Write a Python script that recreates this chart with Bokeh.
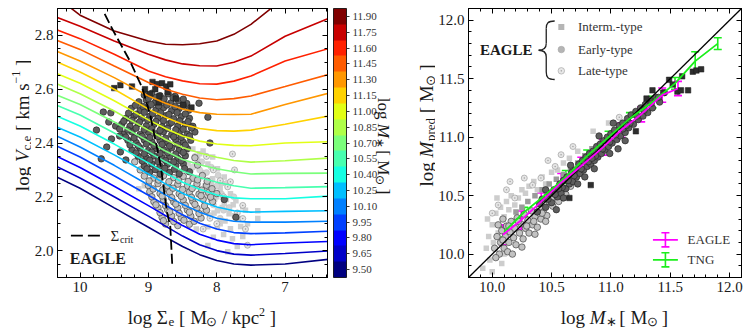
import math
import numpy as np
from bokeh.plotting import figure
from bokeh.models import (Range1d, LinearAxis, FixedTicker, ColorBar, LinearColorMapper,
                          PrintfTickFormatter, CustomJSTickFormatter, Label, Whisker, TeeHead,
                          ColumnDataSource)
from bokeh.layouts import row, column
from bokeh.embed import file_html
from bokeh.resources import INLINE

# ============================ DATA ============================
sigma_grid = [10.35, 10.0, 9.5, 9.0, 8.75, 8.5, 8.25, 8.0, 7.75, 7.5, 7.0, 6.35]
mass_levels = [9.50, 9.65, 9.80, 9.95, 10.10, 10.25, 10.40, 10.55, 10.70,
               10.85, 11.00, 11.15, 11.30, 11.45, 11.60, 11.75, 11.90]
vc_950 = [2.275, 2.232, 2.159, 2.087, 2.050, 2.015, 1.985, 1.963, 1.950, 1.946, 1.950, 1.968]
vc_965 = [2.314, 2.270, 2.200, 2.128, 2.091, 2.054, 2.022, 2.000, 1.987, 1.983, 1.989, 1.999]
vc_980 = [2.352, 2.309, 2.239, 2.167, 2.130, 2.093, 2.061, 2.039, 2.026, 2.022, 2.028, 2.034]
vc_995 = [2.390, 2.348, 2.278, 2.206, 2.169, 2.133, 2.102, 2.080, 2.067, 2.063, 2.066, 2.072]
vc_1010 = [2.427, 2.385, 2.317, 2.244, 2.207, 2.172, 2.143, 2.120, 2.109, 2.106, 2.106, 2.109]
vc_1025 = [2.460, 2.422, 2.356, 2.285, 2.248, 2.213, 2.185, 2.162, 2.148, 2.143, 2.146, 2.148]
vc_1040 = [2.501, 2.463, 2.396, 2.326, 2.289, 2.254, 2.228, 2.207, 2.196, 2.193, 2.193, 2.203]
vc_1055 = [2.541, 2.504, 2.437, 2.367, 2.330, 2.296, 2.272, 2.254, 2.241, 2.232, 2.234, 2.238]
vc_1070 = [2.579, 2.543, 2.478, 2.407, 2.370, 2.339, 2.319, 2.304, 2.293, 2.285, 2.287, 2.288]
vc_1085 = [2.621, 2.583, 2.519, 2.448, 2.413, 2.383, 2.363, 2.347, 2.335, 2.329, 2.334, 2.344]
vc_1100 = [2.659, 2.622, 2.557, 2.486, 2.454, 2.426, 2.407, 2.396, 2.391, 2.390, 2.400, 2.405]
vc_1115 = [2.703, 2.664, 2.600, 2.526, 2.496, 2.470, 2.454, 2.446, 2.444, 2.448, 2.470, 2.501]
vc_1130 = [2.742, 2.705, 2.643, 2.575, 2.548, 2.526, 2.513, 2.507, 2.506, 2.507, 2.543, 2.586]
vc_1145 = [2.783, 2.748, 2.686, 2.625, 2.600, 2.581, 2.567, 2.561, 2.565, 2.575, 2.610, 2.656]
vc_1160 = [2.822, 2.788, 2.730, 2.668, 2.646, 2.631, 2.620, 2.619, 2.630, 2.649, 2.705, 2.752]
vc_1175 = [2.868, 2.834, 2.779, 2.730, 2.709, 2.694, 2.687, 2.686, 2.700, 2.723, 2.797, 2.865]
vc_1190 = [2.944, 2.875, 2.816, 2.779, 2.767, 2.765, 2.769, 2.779, 2.804, 2.841, 2.942, 3.081]
vc_curves = [vc_950, vc_965, vc_980, vc_995, vc_1010, vc_1025, vc_1040, vc_1055, vc_1070,
             vc_1085, vc_1100, vc_1115, vc_1130, vc_1145, vc_1160, vc_1175, vc_1190]
cbar_ticks = mass_levels

sigcrit_x = [9.64, 9.51, 9.27, 9.09, 8.97, 8.82, 8.73, 8.68, 8.65]
sigcrit_y = [2.88, 2.815, 2.705, 2.605, 2.50, 2.315, 2.145, 2.09, 1.94]

# Left panel galaxies (log Sigma_e, log Vc)
ldc_x = [9.06, 8.95, 8.83, 8.71, 8.61,
         9.14, 9.03, 8.90, 8.79, 8.67, 8.56, 8.44,
         9.25, 9.12, 9.01, 8.89, 8.78, 8.66, 8.55, 8.41,
         9.33, 9.21, 9.10, 8.98, 8.86, 8.75, 8.63, 8.52, 8.40,
         9.39, 9.27, 9.15, 9.03, 8.92, 8.80, 8.69, 8.57, 8.46, 8.35,
         9.36, 9.24, 9.12, 9.00, 8.89, 8.78, 8.66, 8.55, 8.43, 8.32,
         9.30, 9.18, 9.06, 8.95, 8.83, 8.72, 8.60, 8.49, 8.38,
         9.24, 9.12, 9.00, 8.89, 8.78, 8.66, 8.55, 8.43,
         9.15, 9.03, 8.92, 8.80, 8.69, 8.57, 8.46,
         9.06, 8.95, 8.83, 8.72, 8.60, 8.49,
         8.98, 8.83, 8.69, 8.55, 8.40,
         9.66, 9.55, 9.58, 9.48, 9.54, 9.69, 9.41, 9.76, 9.61, 9.42, 9.33, 8.49, 8.26, 8.13, 7.89, 7.72, 8.10,
         9.00, 8.89, 8.77, 8.64,
         9.19, 9.08, 8.96, 8.85, 8.73, 8.61, 8.49,
         9.29, 9.18, 9.06, 8.94, 8.82, 8.70, 8.58, 8.46,
         9.36, 9.24, 9.13, 9.01, 8.89, 8.78, 8.66, 8.54, 8.42,
         9.42, 9.30, 9.18, 9.06, 8.95, 8.83, 8.72, 8.60, 8.49, 8.37,
         9.33, 9.21, 9.09, 8.98, 8.86, 8.75, 8.63, 8.52, 8.40,
         9.27, 9.15, 9.03, 8.92, 8.80, 8.69, 8.57, 8.46,
         9.18, 9.06, 8.95, 8.83, 8.72, 8.60, 8.49,
         9.09, 8.98, 8.86, 8.75, 8.63, 8.52,
         9.02, 8.90, 8.76, 8.62, 8.47]
ldc_y = [2.578, 2.585, 2.576, 2.583, 2.574,
         2.553, 2.560, 2.551, 2.558, 2.549, 2.557, 2.547,
         2.529, 2.521, 2.530, 2.523, 2.531, 2.520, 2.528, 2.522,
         2.492, 2.500, 2.491, 2.499, 2.493, 2.501, 2.490, 2.498, 2.492,
         2.470, 2.462, 2.471, 2.464, 2.469, 2.461, 2.472, 2.463, 2.470, 2.462,
         2.433, 2.441, 2.432, 2.440, 2.434, 2.442, 2.431, 2.439, 2.433, 2.441,
         2.410, 2.402, 2.411, 2.404, 2.409, 2.401, 2.412, 2.403, 2.410,
         2.374, 2.381, 2.372, 2.380, 2.375, 2.382, 2.373, 2.379,
         2.351, 2.344, 2.352, 2.345, 2.350, 2.343, 2.352,
         2.315, 2.322, 2.314, 2.321, 2.316, 2.323,
         2.292, 2.285, 2.291, 2.286, 2.293,
         2.515, 2.512, 2.478, 2.463, 2.415, 2.341, 2.367, 2.448, 2.385, 2.426, 2.337, 2.563, 2.548, 2.496, 2.19, 2.124, 2.40,
         2.566, 2.569, 2.564, 2.568,
         2.540, 2.536, 2.543, 2.538, 2.541, 2.535, 2.539,
         2.511, 2.507, 2.514, 2.509, 2.512, 2.506, 2.513, 2.508,
         2.481, 2.484, 2.478, 2.485, 2.480, 2.483, 2.477, 2.482, 2.479,
         2.452, 2.448, 2.455, 2.450, 2.453, 2.447, 2.454, 2.449, 2.451, 2.456,
         2.422, 2.419, 2.425, 2.420, 2.424, 2.418, 2.423, 2.421, 2.426,
         2.393, 2.390, 2.396, 2.391, 2.395, 2.389, 2.394, 2.392,
         2.363, 2.360, 2.366, 2.361, 2.364, 2.359, 2.365,
         2.333, 2.336, 2.331, 2.335, 2.330, 2.334,
         2.304, 2.301, 2.306, 2.302, 2.305]
loc_x = [9.06, 8.92, 8.78, 8.63, 8.49, 8.35, 8.21,
         9.00, 8.86, 8.72, 8.57, 8.43, 8.29, 8.15,
         8.98, 8.83, 8.69, 8.55, 8.40, 8.26, 8.12, 8.00,
         8.92, 8.78, 8.63, 8.49, 8.35, 8.20, 8.06,
         8.86, 8.72, 8.57, 8.43, 8.29, 8.15,
         8.80, 8.66, 8.52, 8.38, 8.23,
         8.75, 8.57, 8.40,
         9.12, 9.20, 8.32, 8.28,
         8.99, 8.85, 8.70, 8.56, 8.42, 8.28, 8.14,
         8.93, 8.79, 8.64, 8.50, 8.36, 8.22, 8.07,
         8.95, 8.80, 8.66, 8.52, 8.37, 8.23, 8.09,
         8.89, 8.75, 8.60, 8.46, 8.32, 8.18,
         8.83, 8.69, 8.55, 8.40, 8.26,
         8.78, 8.63, 8.48, 8.33]
loc_y = [2.277, 2.270, 2.278, 2.271, 2.276, 2.269, 2.279,
         2.242, 2.249, 2.241, 2.247, 2.240, 2.248, 2.243,
         2.219, 2.212, 2.218, 2.211, 2.217, 2.210, 2.216, 2.212,
         2.182, 2.189, 2.181, 2.188, 2.183, 2.190, 2.182,
         2.159, 2.152, 2.158, 2.151, 2.157, 2.150,
         2.123, 2.129, 2.122, 2.128, 2.121,
         2.099, 2.093, 2.098,
         2.300, 2.330, 2.345, 2.318,
         2.259, 2.262, 2.256, 2.261, 2.257, 2.263, 2.258,
         2.229, 2.226, 2.232, 2.227, 2.231, 2.225, 2.230,
         2.200, 2.203, 2.197, 2.202, 2.198, 2.204, 2.199,
         2.170, 2.167, 2.173, 2.168, 2.172, 2.166,
         2.141, 2.144, 2.139, 2.143, 2.138,
         2.111, 2.108, 2.113, 2.109]
lsq_x = [8.28, 8.13, 7.99, 8.20, 8.06, 7.89, 8.28, 8.13, 7.95, 7.80, 8.03, 7.89, 7.72, 7.62,
         7.99, 7.82, 7.68, 7.95, 8.13, 7.80, 7.40, 7.40, 7.99, 8.13, 7.70, 7.84, 8.35, 8.20,
         8.06, 8.42, 9.06, 9.14, 7.55, 7.62, 7.77,
         8.22, 8.08, 7.93, 8.17, 8.00, 7.86, 7.76, 8.09, 7.92, 7.74, 7.88, 8.04, 8.18, 7.65,
         7.90, 8.05, 8.30, 7.58, 8.38, 8.25]
lsq_y = [2.341, 2.322, 2.304, 2.285, 2.267, 2.274, 2.237, 2.222, 2.230, 2.211, 2.193, 2.174,
         2.185, 2.163, 2.148, 2.137, 2.119, 2.100, 2.089, 2.081, 2.148, 2.119, 2.089, 2.019,
         2.015, 1.996, 2.378, 2.370, 2.348, 2.322, 2.241, 2.230, 2.100, 2.052, 2.044,
         2.29, 2.25, 2.25, 2.24, 2.20, 2.19, 2.17, 2.19, 2.16, 2.13, 2.11, 2.14, 2.15, 2.09,
         2.06, 2.05, 2.08, 2.15, 2.30, 2.36]
llc_x = [8.25, 8.10, 8.00, 7.93, 8.18, 8.05, 7.90, 8.30, 8.15, 7.85, 8.35, 8.22, 8.08, 7.98,
         7.75, 7.82, 8.10, 7.95, 8.32, 8.45]
llc_y = [2.30, 2.26, 2.24, 2.21, 2.20, 2.17, 2.15, 2.27, 2.29, 2.25, 2.31, 2.33, 2.31, 2.28,
         2.20, 2.16, 2.13, 2.12, 2.35, 2.36]
lrg_x = [7.77, 7.62, 7.62, 7.80, 7.84, 7.55, 7.58, 7.90, 7.95, 8.05, 7.70, 8.00, 8.10, 8.20, 7.74, 8.15]
lrg_y = [2.359, 2.168, 2.119, 2.256, 2.237, 2.02, 2.08, 2.20, 2.26, 2.30, 2.14, 2.10, 2.12, 2.08, 2.30, 2.35]
lds_x = [9.50, 9.41, 9.24, 8.94, 8.87, 8.80, 8.74, 8.68, 8.98, 8.84, 8.85, 8.49, 8.37, 8.72, 8.60, 9.05, 8.90]
lds_y = [2.604, 2.615, 2.610, 2.627, 2.619, 2.622, 2.610, 2.618, 2.582, 2.575, 2.551, 2.541,
         2.532, 2.590, 2.565, 2.600, 2.600]

# Right panel galaxies (log M*, log Mpred)
rdc_x = [10.38, 10.42, 10.45, 10.48, 10.50, 10.52, 10.55, 10.57, 10.58, 10.60, 10.62, 10.63,
         10.65, 10.67, 10.68, 10.70, 10.71, 10.73, 10.74, 10.76, 10.77, 10.79, 10.80, 10.82,
         10.83, 10.85, 10.86, 10.88, 10.89, 10.91, 10.92, 10.94, 10.95, 10.97, 10.98, 11.00,
         11.01, 11.03, 11.05, 11.07, 11.08, 11.10, 11.12, 11.14, 11.15, 11.17, 11.19, 11.21,
         11.23, 11.25, 11.27, 11.29, 11.31, 11.33, 11.35, 11.38, 11.41, 11.45,
         10.60, 10.72, 10.86, 10.99, 11.12, 10.45, 10.66, 10.90, 11.02, 10.54, 10.78, 11.06,
         10.40, 10.47, 10.53, 10.59, 10.64, 10.69, 10.75, 10.81, 10.87, 10.93, 10.99, 11.04,
         11.10, 11.16, 11.22, 11.28, 11.34, 11.40, 10.56, 10.84, 11.13]
rdc_y = [10.36, 10.47, 10.40, 10.52, 10.44, 10.55, 10.49, 10.60, 10.52, 10.63, 10.56, 10.66,
         10.60, 10.70, 10.62, 10.72, 10.66, 10.77, 10.69, 10.80, 10.72, 10.83, 10.75, 10.86,
         10.77, 10.88, 10.80, 10.92, 10.83, 10.94, 10.86, 10.97, 10.89, 11.00, 10.92, 11.03,
         10.95, 11.06, 10.98, 11.10, 11.01, 11.12, 11.04, 11.16, 11.08, 11.19, 11.11, 11.22,
         11.15, 11.25, 11.18, 11.28, 11.21, 11.31, 11.25, 11.34, 11.30, 11.38,
         10.48, 10.60, 10.73, 10.86, 10.97, 10.55, 10.76, 11.01, 11.12, 10.38, 10.66, 10.90,
         10.43, 10.47, 10.51, 10.57, 10.63, 10.67, 10.73, 10.79, 10.84, 10.90, 10.96, 11.02,
         11.07, 11.12, 11.18, 11.23, 11.29, 11.34, 10.56, 10.82, 11.10]
rop_x = [10.02, 10.04, 10.05, 10.06, 10.07, 10.08, 10.09, 10.10, 10.11, 10.12, 10.13, 10.14,
         10.15, 10.16, 10.18, 10.19, 10.20, 10.21, 10.23, 10.24, 10.26, 10.27, 10.28, 10.30,
         10.31, 10.33, 10.34, 10.36, 10.38, 10.40, 10.41, 10.43, 10.46, 10.48, 10.51, 10.53,
         10.56, 10.59, 10.62, 10.66, 10.03, 10.17, 10.25, 10.36, 10.45,
         10.09, 10.14, 10.22, 10.29, 10.35, 10.42, 10.50, 10.57]
rop_y = [10.05, 10.15, 10.25, 10.00, 10.10, 10.20, 10.30, 10.05, 10.15, 10.24, 10.02, 10.10,
         10.19, 10.28, 10.14, 10.22, 10.08, 10.31, 10.18, 10.26, 10.13, 10.34, 10.22, 10.29,
         10.18, 10.37, 10.25, 10.32, 10.23, 10.40, 10.30, 10.36, 10.33, 10.45, 10.41, 10.50,
         10.45, 10.55, 10.51, 10.58, 9.97, 10.00, 10.06, 10.17, 10.28,
         10.12, 10.24, 10.28, 10.24, 10.28, 10.35, 10.47, 10.50]
rsq_x = [9.92, 9.95, 9.97, 9.98, 10.00, 10.01, 10.03, 10.05, 10.07, 10.08, 10.10, 10.12, 10.14,
         10.16, 10.19, 10.22, 10.25, 10.28, 10.31, 10.35, 10.38, 10.42, 10.45, 10.50, 10.55,
         10.60, 10.65, 10.72, 9.96, 10.04, 10.00, 10.10, 10.85, 10.98]
rsq_y = [9.88, 10.05, 10.15, 9.95, 10.25, 10.10, 10.35, 10.18, 10.40, 9.92, 10.32, 10.45, 10.38,
         10.50, 10.42, 10.48, 10.55, 10.52, 10.58, 10.62, 10.55, 10.66, 10.60, 10.70, 10.72,
         10.78, 10.82, 10.88, 10.30, 10.48, 9.85, 10.00, 11.05, 11.12]
rmd_x = [10.30, 10.36, 10.42, 10.48, 10.54, 10.60, 10.66, 10.72, 10.78, 10.84, 10.25, 10.20,
         10.56, 10.68, 10.80, 10.92]
rmd_y = [10.45, 10.50, 10.55, 10.60, 10.64, 10.68, 10.72, 10.78, 10.84, 10.90, 10.40, 10.36,
         10.58, 10.66, 10.76, 10.95]
rrg_x = [10.00, 10.05, 10.12, 10.19, 10.27, 10.34, 10.41, 10.47, 10.53, 10.68, 11.07, 10.15, 10.58]
rrg_y = [10.35, 10.42, 10.55, 10.48, 10.65, 10.59, 10.65, 10.80, 10.75, 10.92, 11.17, 10.62, 10.85]
rds_x = [11.44, 11.49, 11.56, 11.59, 11.65, 11.69, 11.72, 11.76, 11.60, 11.52, 10.83, 10.65,
         11.30, 11.35, 11.21]
rds_y = [11.38, 11.49, 11.39, 11.40, 11.40, 11.56, 11.57, 11.58, 11.52, 11.45, 10.59, 10.48,
         11.33, 11.40, 11.05]

eagle_mstar = [10.09, 10.244, 10.413, 10.581, 10.75, 10.933, 11.087, 11.255, 11.432, 11.565]
eagle_mpred = [10.165, 10.29, 10.449, 10.611, 10.753, 10.913, 11.061, 11.195, 11.359, 11.416]
eagle_err = [0.085, 0.078, 0.074, 0.078, 0.075, 0.067, 0.062, 0.064, 0.061, 0.061]
tng_mstar = [10.10, 10.27, 10.44, 10.62, 10.80, 10.98, 11.16, 11.35, 11.54, 11.71, 11.90]
tng_mpred = [10.19, 10.36, 10.50, 10.66, 10.84, 11.00, 11.16, 11.30, 11.46, 11.65, 11.80]
tng_err = [0.045, 0.04, 0.05, 0.055, 0.05, 0.05, 0.05, 0.05, 0.05, 0.08, 0.05]
one_to_one = [9.8, 12.1]

# ============================ STYLE ============================
jet17 = ["#000080", "#0000c8", "#0000ff", "#0040ff", "#0080ff", "#00bfff", "#15ffe2",
         "#48ffaf", "#7bff7b", "#afff48", "#e2ff15", "#ffd200", "#ff9700", "#ff5c00",
         "#ff2100", "#c80000", "#800000"]
SERIF = "Liberation Serif"
TXT = "#1a1a1a"
MAGENTA = "#ff00ff"
GREEN = "#1bef1b"

CW = {' ': 0.25, 'l': 0.278, 'o': 0.5, 'g': 0.5, 'V': 0.611, 'M': 0.86, 'c': 0.444, ',': 0.25,
      'e': 0.444, '[': 0.333, ']': 0.333, 'k': 0.5, 'm': 0.778, 's': 0.389, '\u2212': 0.564,
      '1': 0.5, 'p': 0.5, 'r': 0.333, 'd': 0.5, '*': 0.5, '\u2217': 0.65, '\u2299': 0.8,
      '/': 0.278, '2': 0.5, '\u03a3': 0.62, 'i': 0.278, 't': 0.278}


def tw(t, size):
    return sum(CW.get(ch, 0.5) for ch in t) * size


def compose(p, pieces, cx, cy, angle=0.0):
    total = sum(tw(t, s) for t, s, st, d in pieces)
    pos = -total / 2.0
    ca, sa = math.cos(angle), math.sin(angle)
    for t, s, st, d in pieces:
        lead = len(t) - len(t.lstrip(' '))
        trail = len(t) - len(t.rstrip(' '))
        core = t.strip(' ')
        pos += lead * CW[' '] * s
        ox = pos * ca - d * sa
        oy = pos * sa + d * ca
        p.add_layout(Label(x=cx, y=cy, x_offset=ox, y_offset=oy, text=core, angle=angle,
                           text_font=SERIF, text_font_size=f"{s}px", text_font_style=st,
                           text_color=TXT, text_align="left", text_baseline="alphabetic"))
        pos += tw(core, s) + trail * CW[' '] * s


def text_fig(w, h):
    p = figure(width=w, height=h, x_range=Range1d(0, w), y_range=Range1d(0, h),
               x_axis_type=None, y_axis_type=None, output_backend="svg", toolbar_location=None,
               min_border_left=0, min_border_right=0, min_border_top=0, min_border_bottom=0)
    p.outline_line_color = None
    p.background_fill_color = "white"
    p.border_fill_color = "white"
    return p


def style_axis(ax, ticker, formatter, labels=True):
    ax.ticker = ticker
    ax.formatter = formatter if labels else CustomJSTickFormatter(code="return ''")
    ax.major_tick_in = 5
    ax.major_tick_out = 0
    ax.minor_tick_in = 3
    ax.minor_tick_out = 0
    ax.major_tick_line_color = "black"
    ax.minor_tick_line_color = "black"
    ax.axis_line_color = "black"
    ax.major_label_text_font = SERIF
    ax.major_label_text_font_size = "15px"
    ax.major_label_text_color = TXT
    ax.major_label_standoff = 4 if labels else 0


def make_fig(xr, yr, fw, fh, bl, br):
    p = figure(x_range=xr, y_range=yr, frame_width=fw, frame_height=fh,
               output_backend="svg", toolbar_location=None,
               min_border_left=bl, min_border_right=br, min_border_top=8, min_border_bottom=22)
    p.xgrid.visible = False
    p.ygrid.visible = False
    p.outline_line_color = "black"
    p.outline_line_width = 1
    p.background_fill_color = "white"
    p.border_fill_color = "white"
    return p


# ============================ LEFT PANEL ============================
left = make_fig(Range1d(10.33, 6.38), Range1d(1.90, 2.90), 270, 269, 24, 1)
lx_t = FixedTicker(ticks=[10, 9, 8, 7], minor_ticks=[round(v, 2) for v in np.arange(6.4, 10.41, 0.2)])
ly_t = FixedTicker(ticks=[2.0, 2.2, 2.4, 2.6, 2.8],
                   minor_ticks=[round(v, 3) for v in np.arange(1.90, 2.91, 0.05)])
style_axis(left.xaxis[0], lx_t, PrintfTickFormatter(format="%d"))
style_axis(left.yaxis[0], ly_t, PrintfTickFormatter(format="%.1f"))
ax_top = LinearAxis()
style_axis(ax_top, lx_t, None, labels=False)
left.add_layout(ax_top, "above")
ax_r = LinearAxis()
style_axis(ax_r, ly_t, None, labels=False)
left.add_layout(ax_r, "right")

left.scatter(lsq_x, lsq_y, marker="square", size=5.5, fill_color="#cfcfcf", line_color=None)
left.scatter(llc_x, llc_y, marker="circle", size=6, fill_color="#d4d4d4", line_color="#c2c2c2", line_width=0.6)
left.scatter(lrg_x, lrg_y, marker="circle_dot", size=6, fill_color="#e6e6e6", line_color="#9a9a9a", line_width=0.7)
left.scatter(loc_x, loc_y, marker="circle", size=6.5, fill_color="#c2c2c2", line_color="#454545", line_width=0.7)
left.scatter(ldc_x, ldc_y, marker="circle", size=6.5, fill_color="#5e5e5e", line_color="#262626", line_width=0.7)
left.scatter(lds_x, lds_y, marker="square", size=5.5, fill_color="#2e2e2e", line_color="#1a1a1a", line_width=0.5)

for vc, col in zip(vc_curves, jet17):
    left.line(sigma_grid, vc, line_color=col, line_width=1.6)
left.line(sigcrit_x, sigcrit_y, line_color="black", line_width=1.8, line_dash="10 4")

left.line([10.134, 9.703], [2.0556, 2.0556], line_color="black", line_width=1.8, line_dash="12 5")
left.add_layout(Label(x=9.554, y=2.0556, text="\u03a3", text_font=SERIF, text_font_size="15px",
                      text_color=TXT, text_baseline="middle", text_align="left"))
left.add_layout(Label(x=9.554, y=2.0556, x_offset=9.5, y_offset=-3.5, text="crit", text_font=SERIF,
                      text_font_size="10px", text_color=TXT, text_baseline="middle", text_align="left"))
left.add_layout(Label(x=10.149, y=1.972, text="EAGLE", text_font=SERIF, text_font_size="16px",
                      text_font_style="bold", text_color=TXT, text_baseline="middle", text_align="left"))

ylab_left = text_fig(31, 328)
compose(ylab_left, [("log ", 19, "normal", 0), ("V", 19, "italic", 0), ("c,e", 13, "normal", -4),
                    (" [ km s", 19, "normal", 0), ("\u22121", 12, "normal", 7), (" ]", 19, "normal", 0)],
        22, 185.5, angle=math.pi / 2)
xlab_left = text_fig(295, 29)
compose(xlab_left, [("log \u03a3", 19, "normal", 0), ("e", 13, "normal", -4), (" [ M", 19, "normal", 0),
                    ("\u2299", 13, "normal", -4), (" / kpc", 19, "normal", 0), ("2", 12, "normal", 6),
                    (" ]", 19, "normal", 0)], 159, 11)

cbar_fig = figure(width=74, height=328, x_range=Range1d(5, 74), y_range=Range1d(51, 320),
                  x_axis_type=None, y_axis_type=None, output_backend="svg", toolbar_location=None,
                  min_border_left=5, min_border_right=0, min_border_top=8, min_border_bottom=51)
cbar_fig.outline_line_color = None
cbar_fig.background_fill_color = "white"
cbar_fig.border_fill_color = "white"
mapper = LinearColorMapper(palette=jet17, low=9.425, high=11.975)
cb = ColorBar(color_mapper=mapper, ticker=FixedTicker(ticks=cbar_ticks),
              formatter=PrintfTickFormatter(format="%.2f"), width=13, height=269,
              location="top_left", padding=0, margin=0, background_fill_alpha=0,
              label_standoff=3, major_label_text_font=SERIF, major_label_text_font_size="11px",
              major_label_text_color="#333333", major_tick_line_color="#333333",
              major_tick_in=0, major_tick_out=3, minor_tick_line_color=None,
              bar_line_color="black", bar_line_width=0.8)
cbar_fig.add_layout(cb)
compose(cbar_fig, [("log ", 17, "normal", 0), ("M", 17, "italic", 0), ("\u2217", 12, "normal", -4),
                   (" [ M", 17, "normal", 0), ("\u2299", 12, "normal", -4), (" ]", 17, "normal", 0)],
        55, 182.5, angle=-math.pi / 2)

# ============================ RIGHT PANEL ============================
right = make_fig(Range1d(9.8, 12.1), Range1d(9.8, 12.1), 273, 269, 32, 9)
r_t = FixedTicker(ticks=[10.0, 10.5, 11.0, 11.5, 12.0],
                  minor_ticks=[round(v, 2) for v in np.arange(9.8, 12.11, 0.1)])
style_axis(right.xaxis[0], r_t, PrintfTickFormatter(format="%.1f"))
style_axis(right.yaxis[0], r_t, PrintfTickFormatter(format="%.1f"))
rt = LinearAxis()
style_axis(rt, r_t, None, labels=False)
right.add_layout(rt, "above")
rr = LinearAxis()
style_axis(rr, r_t, None, labels=False)
right.add_layout(rr, "right")

right.scatter(rsq_x, rsq_y, marker="square", size=5.5, fill_color="#cdcdcd", line_color=None)
right.scatter(rrg_x, rrg_y, marker="circle_dot", size=6, fill_color="#e6e6e6", line_color="#a0a0a0", line_width=0.7)
right.scatter(rmd_x, rmd_y, marker="square", size=5.5, fill_color="#9a9a9a", line_color=None)
right.scatter(rop_x, rop_y, marker="circle", size=6.5, fill_color="#c2c2c2", line_color="#454545", line_width=0.7)
right.scatter(rdc_x, rdc_y, marker="circle", size=6.5, fill_color="#5e5e5e", line_color="#262626", line_width=0.7)
right.scatter(rds_x, rds_y, marker="square", size=5.5, fill_color="#2e2e2e", line_color="#1a1a1a", line_width=0.5)

right.line(one_to_one, one_to_one, line_color="black", line_width=1.3)


def errbars(p, xs, ys, es, color, draw_line=True):
    src = ColumnDataSource(dict(x=xs, lo=[y - e for y, e in zip(ys, es)], hi=[y + e for y, e in zip(ys, es)]))
    if draw_line:
        p.line(xs, ys, line_color=color, line_width=1.8)
    p.add_layout(Whisker(source=src, base="x", lower="lo", upper="hi", dimension="height",
                         line_color=color, line_width=1.6,
                         lower_head=TeeHead(size=8, line_color=color, line_width=1.6),
                         upper_head=TeeHead(size=8, line_color=color, line_width=1.6)))


errbars(right, tng_mstar, tng_mpred, tng_err, GREEN)
errbars(right, eagle_mstar, eagle_mpred, eagle_err, MAGENTA)

for yy, col, name in [(10.122, MAGENTA, "EAGLE"), (9.951, GREEN, "TNG")]:
    right.line([11.354, 11.564], [yy, yy], line_color=col, line_width=1.8)
    errbars(right, [11.459], [yy], [0.06], col, draw_line=False)
    right.add_layout(Label(x=11.646, y=yy, text=name, text_font=SERIF, text_font_size="13px",
                           text_color="#333333", text_baseline="middle", text_align="left"))

right.add_layout(Label(x=9.896, y=11.743, text="EAGLE", text_font=SERIF, text_font_size="15px",
                       text_font_style="bold", text_color=TXT, text_baseline="middle", text_align="left"))
right.bezier(x0=[10.526, 10.455, 10.455, 10.391, 10.455, 10.455],
             y0=[11.993, 11.93, 11.80, 11.743, 11.686, 11.556],
             x1=[10.455, 10.455, 10.391, 10.455, 10.455, 10.526],
             y1=[11.93, 11.80, 11.743, 11.686, 11.556, 11.493],
             cx0=[10.47, 10.455, 10.455, 10.43, 10.455, 10.455],
             cy0=[11.993, 11.88, 11.76, 11.743, 11.66, 11.51],
             cx1=[10.455, 10.455, 10.43, 10.455, 10.455, 10.47],
             cy1=[11.975, 11.85, 11.743, 11.726, 11.60, 11.493],
             line_color="#222222", line_width=1.3)
right.scatter([10.582], [11.942], marker="square", size=6, fill_color="#b5b5b5", line_color=None)
right.scatter([10.582], [11.749], marker="circle", size=6.5, fill_color="#b5b5b5", line_color="#a5a5a5", line_width=0.6)
right.scatter([10.582], [11.567], marker="circle_dot", size=6.5, fill_color="#e8e8e8", line_color="#aaaaaa", line_width=0.7)
for yy, name in [(11.942, "Interm.-type"), (11.749, "Early-type"), (11.567, "Late-type")]:
    right.add_layout(Label(x=10.722, y=yy, text=name, text_font=SERIF, text_font_size="13px",
                           text_color="#333333", text_baseline="middle", text_align="left"))

ylab_right = text_fig(33, 328)
compose(ylab_right, [("log ", 19, "normal", 0), ("M", 19, "italic", 0), ("pred", 13, "normal", -4),
                     (" [ M", 19, "normal", 0), ("\u2299", 13, "normal", -4), (" ]", 19, "normal", 0)],
        24, 185.5, angle=math.pi / 2)
xlab_right = text_fig(314, 29)
compose(xlab_right, [("log ", 19, "normal", 0), ("M", 19, "italic", 0), ("\u2217", 13, "normal", -4),
                     (" [ M", 19, "normal", 0), ("\u2299", 13, "normal", -4), (" ]", 19, "normal", 0)],
        168.5, 11)

layout = row(ylab_left, column(left, xlab_left), cbar_fig, ylab_right, column(right, xlab_right))
open("out.html", "w").write(file_html(layout, INLINE))
